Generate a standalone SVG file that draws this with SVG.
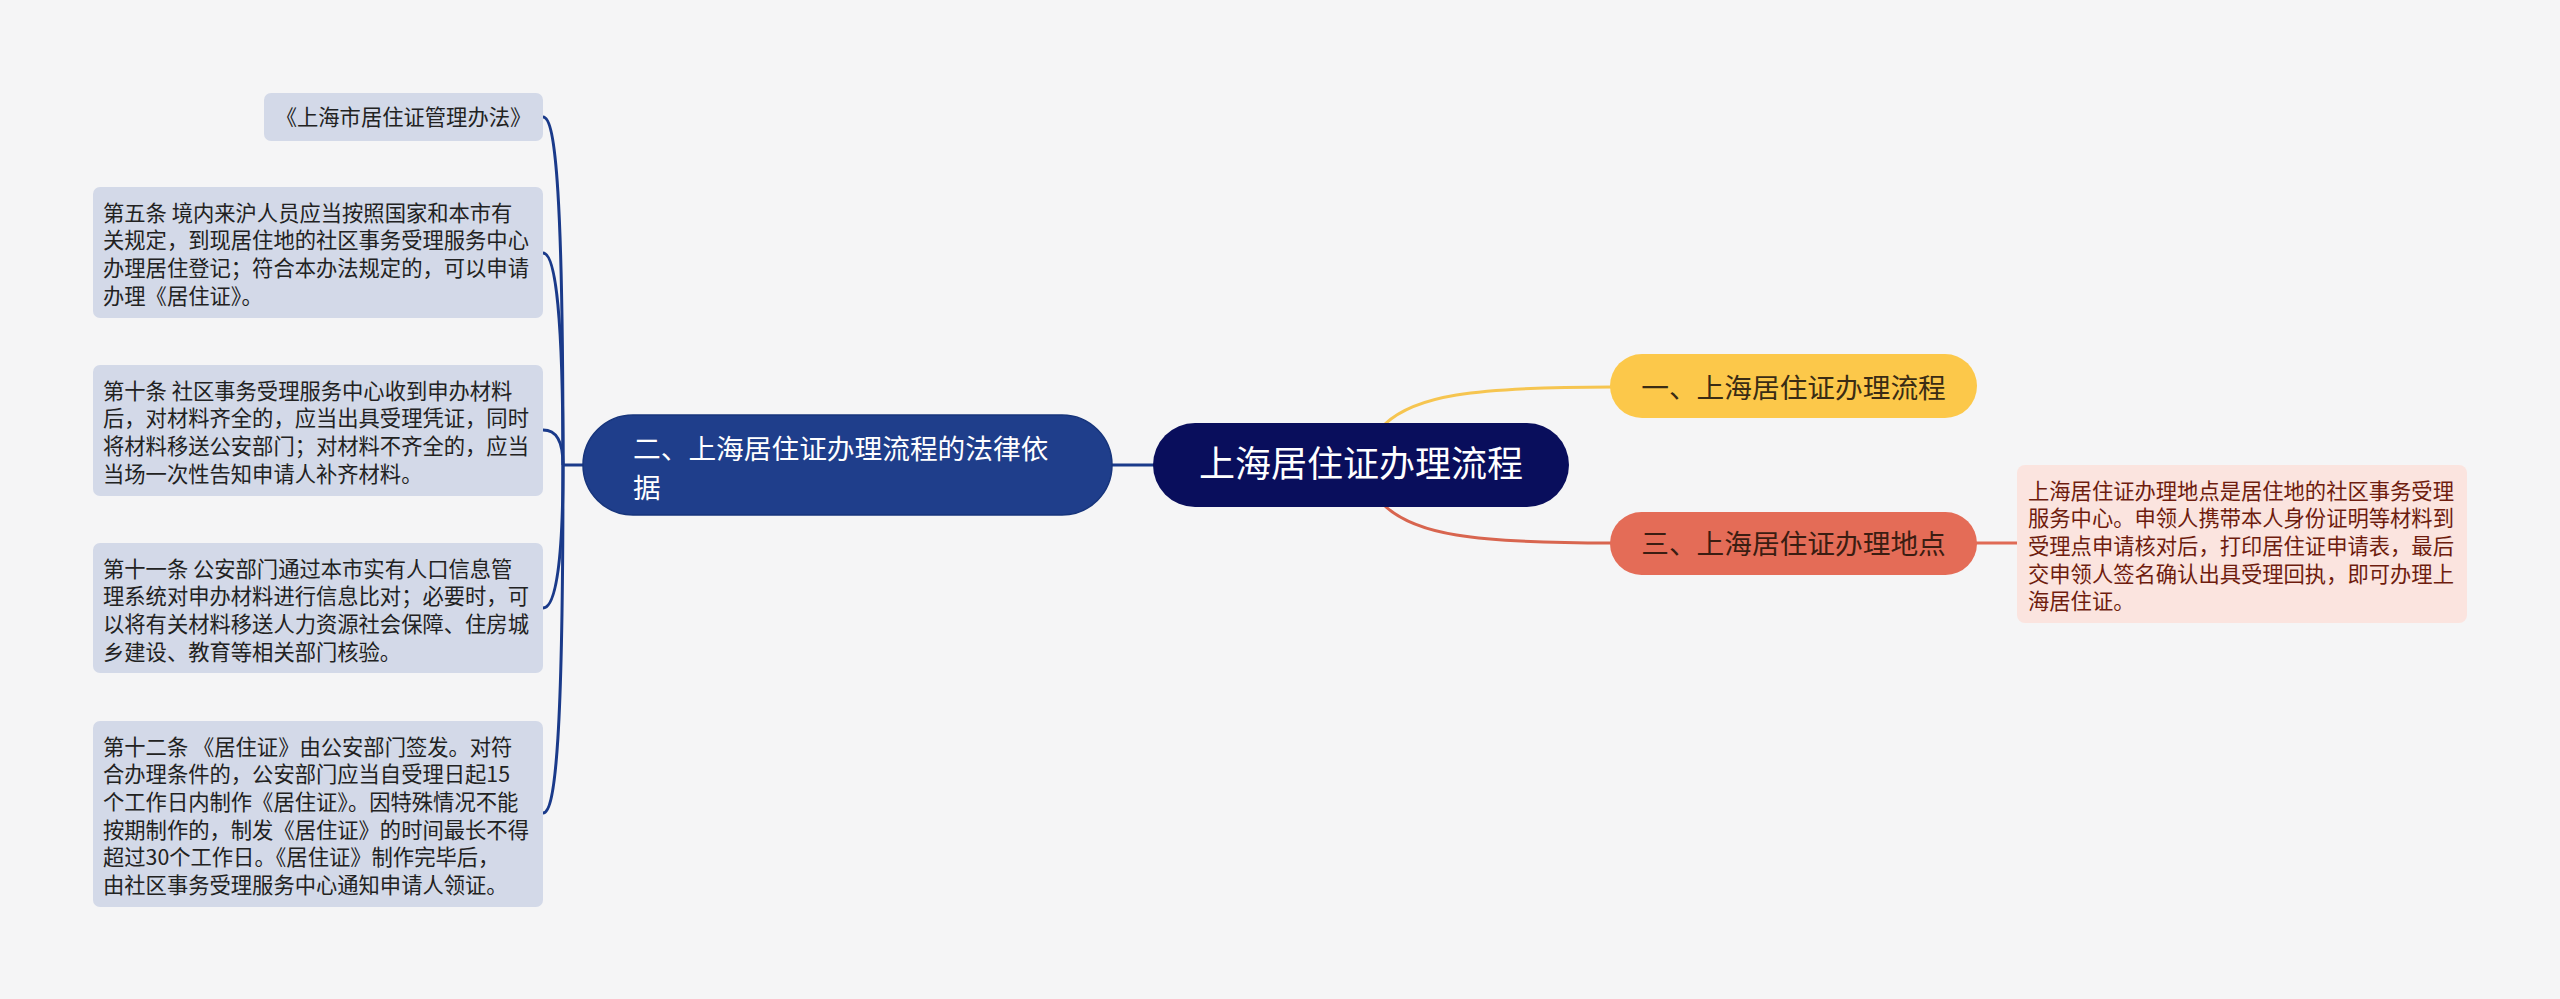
<svg xmlns="http://www.w3.org/2000/svg" width="2560" height="999" viewBox="0 0 2560 999">
<style>
.bg{fill:#f5f5f6}
.leaf{fill:#d3d9e8}
.leaf-t{font-family:"Noto Sans CJK SC","Noto Sans",sans-serif;font-size:21.3px;fill:#222}
.main-t{font-family:"Noto Sans CJK SC","Noto Sans",sans-serif;font-size:27.7px}
.blue-ln{fill:none;stroke:#1a3a8a;stroke-width:3}
</style>
<rect class="bg" x="0" y="0" width="2560" height="999"/>
<g id="connectors">
<path class="blue-ln" d="M543 117 C556 117 563 200 563 465"/>
<path class="blue-ln" d="M543 253 C556 253 563 320 563 465"/>
<path class="blue-ln" d="M543 430 C556 430 563 440 563 465"/>
<path class="blue-ln" d="M543 608 C556 608 563 560 563 465"/>
<path class="blue-ln" d="M543 813 C556 813 563 730 563 465"/>
<path class="blue-ln" d="M563 465 L583 465"/>
<path class="blue-ln" d="M1112 465 L1155 465"/>
<path d="M1385 424 C1415 396 1470 387 1612 387" fill="none" stroke="#f6c550" stroke-width="3"/>
<path d="M1385 506 C1415 534 1470 543 1612 543" fill="none" stroke="#d8654f" stroke-width="3"/>
<path d="M1975 543 L2019 543" fill="none" stroke="#e06a55" stroke-width="3"/>
</g>
<g id="center">
<rect x="1153" y="423" width="416" height="84" rx="42" fill="#090e5c"/>
<text x="1361" y="477" text-anchor="middle" font-family="Noto Sans CJK SC, Noto Sans, sans-serif" font-size="36" fill="#ffffff">上海居住证办理流程</text>
</g>
<g id="n2-basis">
<rect x="583" y="415" width="529" height="100" rx="50" fill="#1f3e8b" stroke="#17357c" stroke-width="1.5"/>
<text class="main-t" fill="#ffffff"><tspan x="633" y="458.5">二、上海居住证办理流程的法律依</tspan><tspan x="633" y="497.5">据</tspan></text>
</g>
<g id="n1-process">
<rect x="1610" y="354" width="367" height="64" rx="32" fill="#fcc84a"/>
<text class="main-t" x="1793.5" y="397.5" text-anchor="middle" fill="#3a2c14">一、上海居住证办理流程</text>
</g>
<g id="n3-place">
<rect x="1610" y="512" width="367" height="63" rx="31.5" fill="#e46c57"/>
<text class="main-t" x="1793.5" y="553.5" text-anchor="middle" fill="#3b1d12">三、上海居住证办理地点</text>
</g>
<g id="place-detail">
<rect x="2017" y="465" width="450" height="158" rx="8" fill="#fbe4df"/>
<text class="leaf-t" style="fill:#6e1c0e"><tspan x="2028" y="498.5">上海居住证办理地点是居住地的社区事务受理</tspan><tspan x="2028" y="526.2">服务中心。申领人携带本人身份证明等材料到</tspan><tspan x="2028" y="553.9">受理点申请核对后，打印居住证申请表，最后</tspan><tspan x="2028" y="581.6">交申领人签名确认出具受理回执，即可办理上</tspan><tspan x="2028" y="609.3">海居住证。</tspan></text>
</g>
<g id="leaf-law">
<rect class="leaf" x="264" y="93" width="279" height="48" rx="7"/>
<text class="leaf-t" x="403.5" y="125" text-anchor="middle">《上海市居住证管理办法》</text>
</g>
<g id="leaf-art5">
<rect class="leaf" x="93" y="187" width="450" height="131" rx="7"/>
<text class="leaf-t"><tspan x="103" y="220.5">第五条 境内来沪人员应当按照国家和本市有</tspan><tspan x="103" y="248.2">关规定，到现居住地的社区事务受理服务中心</tspan><tspan x="103" y="275.9">办理居住登记；符合本办法规定的，可以申请</tspan><tspan x="103" y="303.6">办理《居住证》。</tspan></text>
</g>
<g id="leaf-art10">
<rect class="leaf" x="93" y="365" width="450" height="131" rx="7"/>
<text class="leaf-t"><tspan x="103" y="398.5">第十条 社区事务受理服务中心收到申办材料</tspan><tspan x="103" y="426.2">后，对材料齐全的，应当出具受理凭证，同时</tspan><tspan x="103" y="453.9">将材料移送公安部门；对材料不齐全的，应当</tspan><tspan x="103" y="481.6">当场一次性告知申请人补齐材料。</tspan></text>
</g>
<g id="leaf-art11">
<rect class="leaf" x="93" y="543" width="450" height="130" rx="7"/>
<text class="leaf-t"><tspan x="103" y="576.5">第十一条 公安部门通过本市实有人口信息管</tspan><tspan x="103" y="604.2">理系统对申办材料进行信息比对；必要时，可</tspan><tspan x="103" y="631.9">以将有关材料移送人力资源社会保障、住房城</tspan><tspan x="103" y="659.6">乡建设、教育等相关部门核验。</tspan></text>
</g>
<g id="leaf-art12">
<rect class="leaf" x="93" y="721" width="450" height="186" rx="7"/>
<text class="leaf-t"><tspan x="103" y="754.5">第十二条 《居住证》由公安部门签发。对符</tspan><tspan x="103" y="782.2">合办理条件的，公安部门应当自受理日起15</tspan><tspan x="103" y="809.9">个工作日内制作《居住证》。因特殊情况不能</tspan><tspan x="103" y="837.6">按期制作的，制发《居住证》的时间最长不得</tspan><tspan x="103" y="865.3">超过30个工作日。《居住证》制作完毕后，</tspan><tspan x="103" y="893">由社区事务受理服务中心通知申请人领证。</tspan></text>
</g>
</svg>
